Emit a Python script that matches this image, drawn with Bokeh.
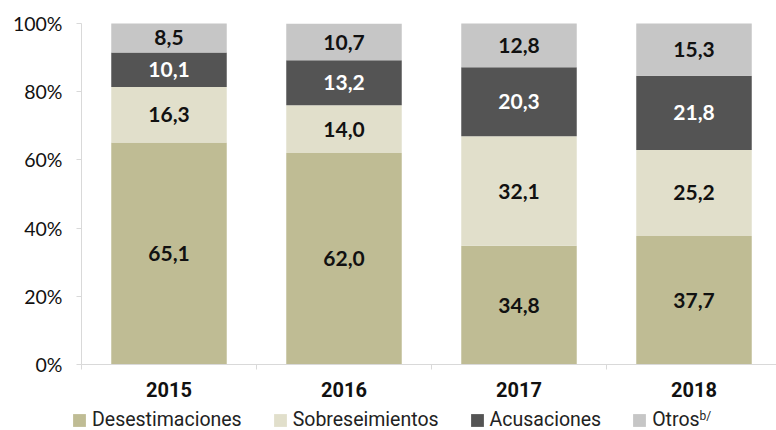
import numpy as np
from bokeh.plotting import figure
from bokeh.models import (ColumnDataSource, Range1d, FixedTicker, PrintfTickFormatter,
                          Legend, LegendItem, Label)
from bokeh.core.properties import value
from bokeh.embed import file_html
from bokeh.resources import INLINE

# ---- data ----
years = ["2015", "2016", "2017", "2018"]
series_names = ["Desestimaciones", "Sobreseimientos", "Acusaciones", "Otros"]
desestimaciones = [65.1, 62.0, 34.8, 37.7]
sobreseimientos = [16.3, 14.0, 32.1, 25.2]
acusaciones = [10.1, 13.2, 20.3, 21.8]
otros = [8.5, 10.7, 12.8, 15.3]
y_ticks = [0, 20, 40, 60, 80, 100]

colors = ["#BFBC94", "#E1DFCB", "#545454", "#C6C6C6"]
label_colors = ["#111111", "#111111", "#FFFFFF", "#111111"]

series = [desestimaciones, sobreseimientos, acusaciones, otros]
keys = ["d", "s", "a", "o"]

x_pos = list(range(len(years)))
data = dict(x=x_pos)
for k, v in zip(keys, series):
    data[k] = v
source = ColumnDataSource(data)

# ---- layout (pixels) ----
W, H = 776, 430
AX_X, AX_TOP, AX_BOT = 81, 23, 364      # y-axis x position, 100% and 0% rows
cat_px = 175.0
y_px = (AX_BOT - AX_TOP) / 100.0
x0 = -0.5 - AX_X / cat_px
x1 = -0.5 + (W - AX_X) / cat_px
y1 = 100 + AX_TOP / y_px
y0 = -(H - AX_BOT) / y_px

p = figure(width=W, height=H, output_backend="svg", toolbar_location=None,
           min_border=0, x_range=Range1d(x0, x1), y_range=Range1d(y0, y1))

p.outline_line_color = None
p.grid.grid_line_color = None
p.background_fill_color = "white"
p.border_fill_color = "white"

renderers = p.vbar_stack(keys, x="x", width=0.66, color=colors, line_color=None,
                         source=source)

# segment labels
bottom = np.zeros(len(years))
for vals, col in zip(series, label_colors):
    vals = np.array(vals)
    mid = bottom + vals / 2
    bottom = bottom + vals
    lsrc = ColumnDataSource(dict(x=x_pos, y=mid,
                                 t=[f"{v:.1f}".replace(".", ",") for v in vals]))
    p.text(x="x", y="y", text="t", source=lsrc, text_align="center",
           text_baseline="middle", text_color=col, text_font=value("Lato"),
           text_font_size="21px", text_font_style="bold")

# axes
axis_col = "#D9D9D9"
p.yaxis.fixed_location = -0.5
p.yaxis.bounds = (0, 100)
p.yaxis.ticker = FixedTicker(ticks=y_ticks)
p.yaxis.formatter = PrintfTickFormatter(format="%d%%")
p.yaxis.axis_line_color = axis_col
p.yaxis.major_tick_line_color = axis_col
p.yaxis.major_tick_in = 0
p.yaxis.major_tick_out = 5
p.yaxis.minor_tick_line_color = None
p.yaxis.major_label_standoff = 14
p.yaxis.major_label_text_font = "Lato"
p.yaxis.major_label_text_font_size = "19.5px"
p.yaxis.major_label_text_color = "#111111"

p.xaxis.fixed_location = 0
p.xaxis.bounds = (-0.5, x1)
p.xaxis.ticker = FixedTicker(ticks=x_pos, minor_ticks=[i - 0.5 for i in range(len(years) + 1)])
p.xaxis.major_label_overrides = {i: y for i, y in enumerate(years)}
p.xaxis.axis_line_color = axis_col
p.xaxis.major_tick_line_color = None
p.xaxis.major_tick_in = 0
p.xaxis.major_tick_out = 5
p.xaxis.minor_tick_line_color = axis_col
p.xaxis.minor_tick_in = 0
p.xaxis.minor_tick_out = 5
p.xaxis.major_label_standoff = 12
p.xaxis.major_label_text_font = "Roboto"
p.xaxis.major_label_text_font_size = "20px"
p.xaxis.major_label_text_font_style = "bold"
p.xaxis.major_label_text_color = "#111111"

legend = Legend(items=[LegendItem(label=n, renderers=[r]) for n, r in zip(series_names, renderers)],
                orientation="horizontal", location=(71, -1))
legend.label_text_font = "Roboto"
legend.label_text_font_size = "19.5px"
legend.label_text_color = "#222222"
legend.glyph_width = 16
legend.glyph_height = 16
legend.label_standoff = 5
legend.spacing = 30
legend.padding = 0
legend.margin = 0
legend.border_line_color = None
legend.background_fill_alpha = 0
p.add_layout(legend, "center")

sup = Label(x=699, y=8, x_units="screen", y_units="screen", text="b/",
            text_font="Roboto", text_font_size="12px", text_color="#222222")
p.add_layout(sup)

open("out.html", "w").write(file_html(p, INLINE))
